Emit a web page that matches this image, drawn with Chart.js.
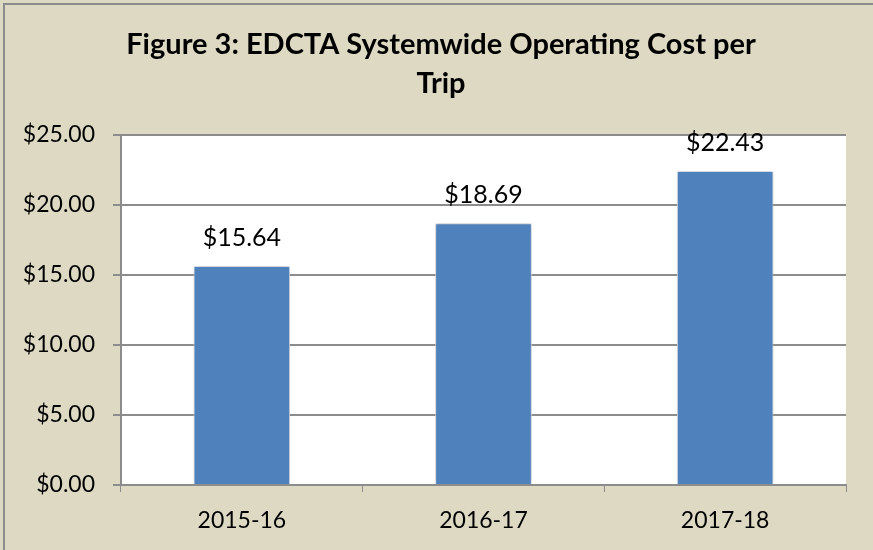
<!DOCTYPE html>
<html>
<head>
<meta charset="utf-8">
<script src="https://cdn.jsdelivr.net/npm/chart.js@4"></script>
<style>
  html, body { margin: 0; padding: 0; background: #ddd9c3; }
  #wrap { width: 873px; height: 550px; }
</style>
</head>
<body>
<div id="wrap"><canvas id="myChart" width="873" height="550"></canvas></div>
<script>
// chart data
var years = ['2015-16', '2016-17', '2017-18'];
var costPerTrip = [15.64, 18.69, 22.43];
var yTicks = [0, 5, 10, 15, 20, 25];
var titleLines = ['Figure 3: EDCTA Systemwide Operating Cost per', 'Trip'];

var fontName = 'Lato, "Open Sans", sans-serif';

// beige background, border, white plot area
var bgPlugin = {
    id: 'bg',
    beforeDraw: function (chart) {
        var ctx = chart.ctx;
        var a = chart.chartArea;
        ctx.save();
        ctx.fillStyle = '#ddd9c3';
        ctx.fillRect(0, 0, chart.width, chart.height);
        ctx.strokeStyle = '#8c8c8c';
        ctx.lineWidth = 2;
        ctx.beginPath();
        ctx.moveTo(4, chart.height);
        ctx.lineTo(4, 4);
        ctx.lineTo(chart.width, 4);
        ctx.stroke();
        ctx.fillStyle = '#ffffff';
        ctx.fillRect(a.left, a.top, a.right - a.left, a.bottom - a.top);
        ctx.restore();
    }
};

// two line bold title
var titlePlugin = {
    id: 'twoLineTitle',
    afterDraw: function (chart) {
        var ctx = chart.ctx;
        ctx.save();
        ctx.fillStyle = '#000000';
        ctx.font = 'bold 29px ' + fontName;
        ctx.textAlign = 'center';
        ctx.textBaseline = 'alphabetic';
        ctx.fillText(titleLines[0], 441, 54);
        ctx.fillText(titleLines[1], 441, 93);
        ctx.restore();
    }
};

// soft shadow behind bars
var shadowPlugin = {
    id: 'barShadow',
    beforeDatasetsDraw: function (chart) {
        var ctx = chart.ctx;
        ctx.save();
        ctx.shadowColor = 'rgba(0,0,0,0.25)';
        ctx.shadowBlur = 5;
        ctx.shadowOffsetX = 0;
        ctx.shadowOffsetY = 0;
    },
    afterDatasetsDraw: function (chart) {
        chart.ctx.restore();
    }
};

// value labels above the bars
var labelPlugin = {
    id: 'valueLabels',
    afterDatasetsDraw: function (chart) {
        var ctx = chart.ctx;
        var meta = chart.getDatasetMeta(0);
        ctx.save();
        ctx.fillStyle = '#000000';
        ctx.font = '25px ' + fontName;
        ctx.textAlign = 'center';
        ctx.textBaseline = 'alphabetic';
        meta.data.forEach(function (bar, i) {
            ctx.fillText('$' + costPerTrip[i].toFixed(2), bar.x, bar.y - 20);
        });
        ctx.restore();
    }
};

var ctx = document.getElementById('myChart');
var myChart = new Chart(ctx, {
    type: 'bar',
    data: {
        labels: years,
        datasets: [{
            data: costPerTrip,
            backgroundColor: '#4f81bd',
            borderColor: '#e8eef7',
            borderWidth: 1,
            barPercentage: 0.40,
            categoryPercentage: 1.0
        }]
    },
    options: {
        responsive: false,
        animation: false,
        layout: { padding: { top: 135, right: 27, left: 0, bottom: 0 } },
        plugins: {
            legend: { display: false },
            tooltip: { enabled: false },
            title: { display: false }
        },
        scales: {
            x: {
                grid: {
                    display: true,
                    drawOnChartArea: false,
                    offset: true,
                    color: '#8c8c8c',
                    tickLength: 7,
                    tickColor: '#8c8c8c'
                },
                border: { color: '#8c8c8c', width: 2 },
                ticks: {
                    color: '#000000',
                    font: { family: fontName, size: 23 },
                    padding: 15
                },
                afterFit: function (scale) { scale.height = 65; }
            },
            y: {
                min: 0,
                max: 25,
                afterBuildTicks: function (scale) {
                    scale.ticks = yTicks.map(function (v) { return { value: v }; });
                },
                grid: {
                    color: '#8c8c8c',
                    lineWidth: 2,
                    tickLength: 8,
                    tickColor: '#8c8c8c'
                },
                border: { color: '#8c8c8c', width: 2 },
                ticks: {
                    color: '#000000',
                    font: { family: fontName, size: 23 },
                    padding: 18,
                    callback: function (v) { return '$' + v.toFixed(2); }
                },
                afterFit: function (scale) { scale.width = 121; }
            }
        }
    },
    plugins: [bgPlugin, titlePlugin, shadowPlugin, labelPlugin]
});
</script>
</body>
</html>
